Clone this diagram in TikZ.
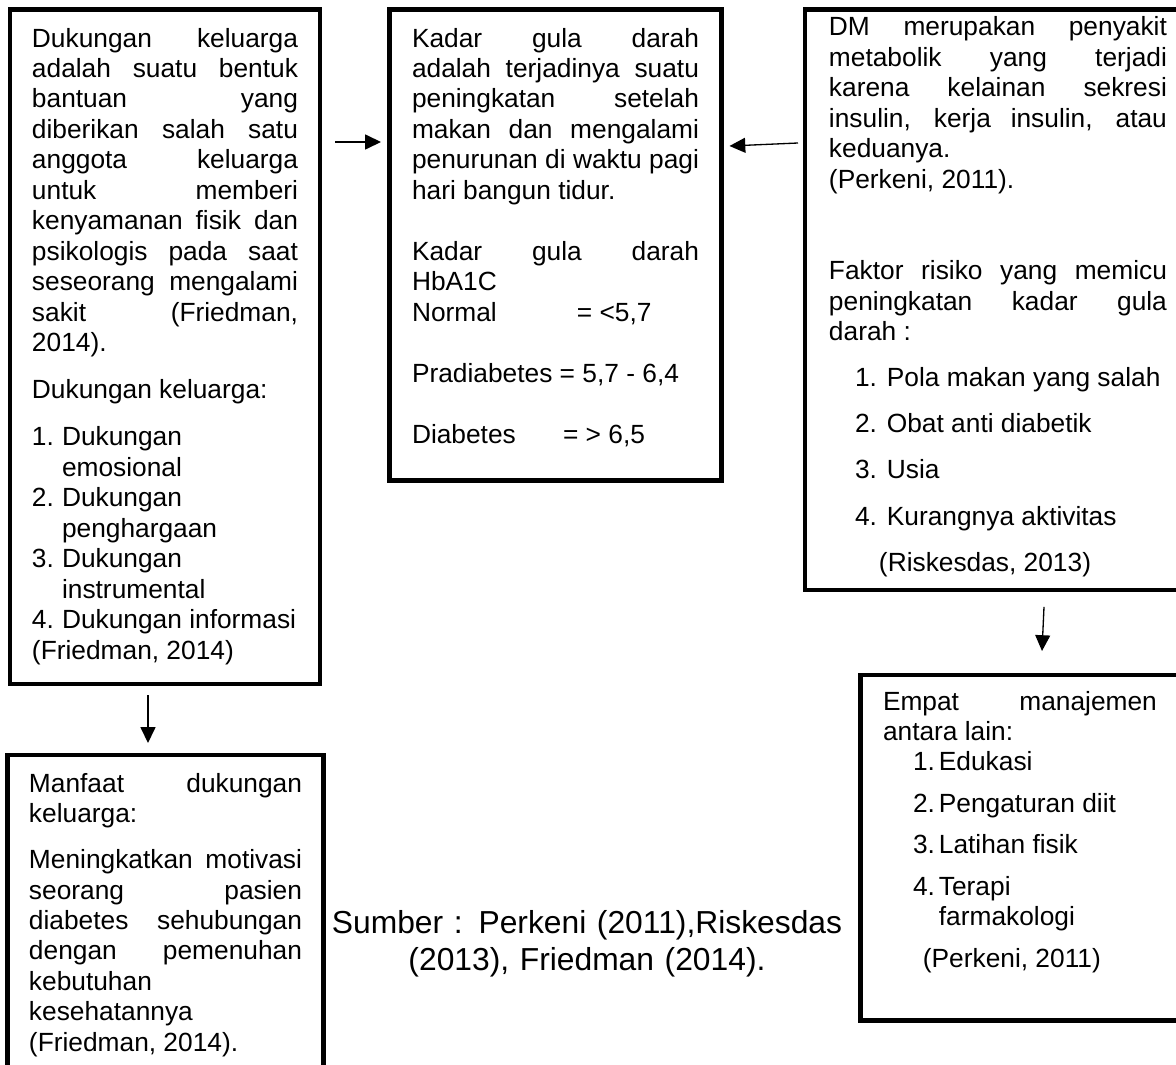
\documentclass[tikz,border=0pt]{standalone}
\usepackage{fontspec}
\setmainfont{Liberation Sans}
\usetikzlibrary{arrows.meta}
\tolerance=10000
\hbadness=10000
\vbadness=10000
\hyphenpenalty=10000
\newcommand\butir[3]{\hangindent=#2\relax\hangafter=1\relax\makebox[#2][l]{\kern#1#3}}

\begin{document}
\begin{tikzpicture}[x=0.456pt, y=-0.456pt,
kotak/.style={draw, line width=2pt, anchor=north west, outer sep=0pt, inner ysep=0pt,
      align=justify, font=\fontsize{12}{13.9}\selectfont},
panah/.style={-{Triangle[length=7.2pt, width=6.8pt]}, line width=0.6pt}]
 \useasboundingbox (0,0) rectangle (1176,1065);

 \node[kotak, inner xsep=10.03pt, text width=121.3pt, text height=17.1pt, text depth=290.5pt] (dukungan) at (10,9.5)
 {Dukungan keluarga\linebreak adalah suatu bentuk\linebreak bantuan yang\linebreak diberikan salah satu\linebreak anggota keluarga\linebreak untuk memberi\linebreak kenyamanan fisik dan\linebreak psikologis pada saat\linebreak seseorang mengalami\linebreak sakit (Friedman,\linebreak 2014).\par\vspace{7.5pt}
 Dukungan keluarga:\par\vspace{7.5pt}
 \butir{0pt}{13.7pt}{1.}Dukungan\\emosional\par
 \butir{0pt}{13.7pt}{2.}Dukungan\\penghargaan\par
 \butir{0pt}{13.7pt}{3.}Dukungan\\instrumental\par
 \butir{0pt}{13.7pt}{4.}Dukungan informasi\par
 (Friedman, 2014)};

 \node[kotak, inner xsep=10.26pt, text width=130.87pt, text height=17.1pt, text depth=197.7pt] (kadar) at (389.5,9.5)
 {Kadar gula darah\linebreak adalah terjadinya suatu\linebreak peningkatan setelah\linebreak makan dan mengalami\linebreak penurunan di waktu pagi\linebreak hari bangun tidur.\par\vspace{\baselineskip}
 Kadar gula darah\linebreak HbA1C\par
 \makebox[75.2pt][l]{Normal}= <5,7\par\vspace{\baselineskip}
 Pradiabetes = 5,7 - 6,4\par\vspace{\baselineskip}
 \makebox[68.9pt][l]{Diabetes}= > 6,5};

 \node[kotak, inner xsep=10.94pt, text width=154.1pt, text height=12.08pt, text depth=252.6pt] (dm) at (805,9.5)
 {DM merupakan penyakit\linebreak metabolik yang terjadi\linebreak karena kelainan sekresi\linebreak insulin, kerja insulin, atau\linebreak keduanya.\\(Perkeni, 2011).\par\vspace{2\baselineskip}
 Faktor risiko yang memicu\linebreak peningkatan kadar gula\linebreak darah :\par\vspace{7.1pt}
 \butir{11.9pt}{26.4pt}{1.}Pola makan yang salah\par\vspace{7.1pt}
 \butir{11.9pt}{26.4pt}{2.}Obat anti diabetik\par\vspace{7.1pt}
 \butir{11.9pt}{26.4pt}{3.}Usia\par\vspace{7.1pt}
 \butir{11.9pt}{26.4pt}{4.}Kurangnya aktivitas\par\vspace{7.1pt}
 \hspace*{22.8pt}(Riskesdas, 2013)};

 \node[kotak, inner xsep=9.8pt, text width=124.5pt, text height=16.87pt, text depth=136.8pt] (manfaat) at (7.5,755)
 {Manfaat dukungan\linebreak keluarga:\par\vspace{7.1pt}
 Meningkatkan motivasi\linebreak seorang pasien\linebreak diabetes sehubungan\linebreak dengan pemenuhan\linebreak kebutuhan\linebreak kesehatannya\linebreak (Friedman, 2014).};

 \node[kotak, inner xsep=10.26pt, text width=124.9pt, text height=15.96pt, text depth=141.6pt] (manajemen) at (860.5,675)
 {Empat manajemen\linebreak antara lain:\par
 \butir{13.7pt}{25.5pt}{1.}Edukasi\par\vspace{5pt}
 \butir{13.7pt}{25.5pt}{2.}Pengaturan diit\par\vspace{5pt}
 \butir{13.7pt}{25.5pt}{3.}Latihan fisik\par\vspace{5pt}
 \butir{13.7pt}{25.5pt}{4.}Terapi\\farmakologi\par\vspace{5pt}
 \hspace*{18.2pt}(Perkeni, 2011)};

 \node[font=\fontsize{14.5}{16.9}\selectfont, align=center, text width=260pt, anchor=north,
   inner sep=0pt, text height=10.5pt] (sumber) at (587,910)
 {Sumber : Perkeni (2011),Riskesdas\\(2013), Friedman (2014).};

 \draw[panah] ([shift={(15,132.5)}]dukungan.north east) -- ([shift={(-8.5,132.5)}]kadar.north west);
 \draw[panah] ([shift={(-7,133.5)}]dm.north west) -- ([shift={(8,136.5)}]kadar.north east);
 \draw[panah] ([shift={(138,11)}]dukungan.south west) -- ([shift={(140.5,-12)}]manfaat.north west);
 \draw[panah] ([shift={(239,17)}]dm.south west) -- ([shift={(181.5,-24)}]manajemen.north west);
\end{tikzpicture}
\end{document}
